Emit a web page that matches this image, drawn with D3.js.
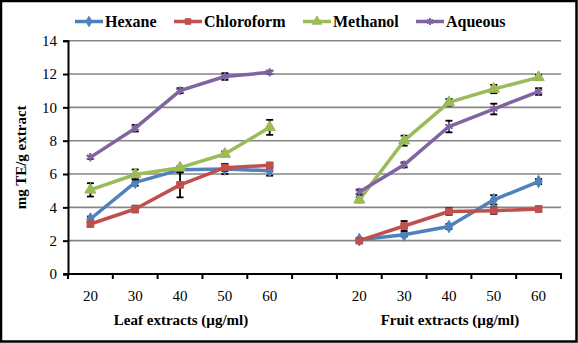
<!DOCTYPE html>
<html><head><meta charset="utf-8">
<script src="https://cdn.jsdelivr.net/npm/d3@7"></script>
<style>body{margin:0;background:#fff}svg{display:block}svg text{font-family:"Liberation Serif","Times New Roman",serif !important;fill:#000}</style>
</head><body><svg id="c" width="578" height="343"></svg>
<script>
const concentrations = ["20","30","40","50","60"];
const seriesNames = ["Hexane","Chloroform","Methanol","Aqueous"];
const seriesColors = ["#4F81BD","#C0504D","#9BBB59","#8064A2"];
const leafHexane     = [3.3, 5.5, 6.25, 6.3, 6.2];
const leafChloroform = [3.0, 3.9, 5.35, 6.38, 6.52];
const leafMethanol   = [5.05, 5.97, 6.38, 7.2, 8.8];
const leafAqueous    = [7.0, 8.75, 11.0, 11.85, 12.1];
const fruitHexane     = [2.06, 2.35, 2.85, 4.45, 5.55];
const fruitChloroform = [2.0, 2.88, 3.75, 3.8, 3.9];
const fruitMethanol   = [4.45, 8.0, 10.3, 11.1, 11.8];
const fruitAqueous    = [4.92, 6.55, 8.85, 9.9, 10.95];
const leafHexaneErr     = [0.15, 0.2, 0.15, 0.3, 0.3];
const leafChloroformErr = [0.15, 0.2, 0.75, 0.2, 0.15];
const leafMethanolErr   = [0.4, 0.3, 0.1, 0.15, 0.45];
const leafAqueousErr    = [0.1, 0.2, 0.15, 0.2, 0.1];
const fruitHexaneErr     = [0.1, 0.1, 0.15, 0.28, 0.15];
const fruitChloroformErr = [0.15, 0.3, 0.2, 0.2, 0.15];
const fruitMethanolErr   = [0.15, 0.3, 0.2, 0.25, 0.15];
const fruitAqueousErr    = [0.15, 0.15, 0.35, 0.32, 0.2];
const yTicks = [0,2,4,6,8,10,12,14];
const groupTitles = ["Leaf extracts (µg/ml)","Fruit extracts (µg/ml)"];

const groups = [
  {key:"L", vals:[leafHexane,leafChloroform,leafMethanol,leafAqueous], errs:[leafHexaneErr,leafChloroformErr,leafMethanolErr,leafAqueousErr]},
  {key:"F", vals:[fruitHexane,fruitChloroform,fruitMethanol,fruitAqueous], errs:[fruitHexaneErr,fruitChloroformErr,fruitMethanolErr,fruitAqueousErr]}
];
const domain = [...concentrations.map(c=>"L"+c), "gap", ...concentrations.map(c=>"F"+c)];

const svg = d3.select("#c");
const L=68, R=561, T=40.7, B=274;
const x = d3.scaleBand().domain(domain).range([L,R]).padding(0);
const y = d3.scaleLinear().domain([0,14]).range([B,T]);
const cx = k => x(k)+x.bandwidth()/2;

// border
svg.append("rect").attr("x",1).attr("y",1).attr("width",575.5).attr("height",340.5)
  .attr("fill","none").attr("stroke","#000").attr("stroke-width",2.5);

// gridlines
svg.append("g").selectAll("line").data(yTicks.filter(d=>d>0)).join("line")
  .attr("x1",L).attr("x2",R).attr("y1",d=>y(d)).attr("y2",d=>y(d))
  .attr("stroke","#868686").attr("stroke-width",1.6);

// y axis
const ya = svg.append("g").attr("transform",`translate(${L},0)`)
  .call(d3.axisLeft(y).tickValues(yTicks).tickSize(5).tickPadding(6).tickFormat(d3.format("d")));
ya.select(".domain").attr("stroke","#000").attr("stroke-width",2);
ya.selectAll(".tick line").attr("stroke","#000").attr("stroke-width",2);
ya.selectAll("text").attr("font-size",15);

// x axis labels
const xa = svg.append("g").attr("transform",`translate(0,${B})`)
  .call(d3.axisBottom(x).tickSize(0).tickPadding(16).tickFormat(d=>d==="gap"?"":d.slice(1)));
xa.select(".domain").remove();
xa.selectAll("text").attr("font-size",15);
svg.append("line").attr("x1",L-5).attr("x2",R+1).attr("y1",B).attr("y2",B).attr("stroke","#000").attr("stroke-width",2);
svg.append("g").selectAll("line").data([...domain.map(d=>x(d)), R]).join("line")
  .attr("x1",d=>d).attr("x2",d=>d).attr("y1",B).attr("y2",B+5).attr("stroke","#000").attr("stroke-width",2);

// axis titles
groups.forEach((g,i)=>{
  const keys = concentrations.map(c=>g.key+c);
  svg.append("text").attr("x",(cx(keys[0])+cx(keys[4]))/2 + 1).attr("y",325)
    .attr("text-anchor","middle").attr("font-size",15).attr("font-weight","bold").text(groupTitles[i]);
});
svg.append("text").attr("transform",`translate(26,${(T+B)/2}) rotate(-90)`)
  .attr("text-anchor","middle").attr("font-size",15).attr("font-weight","bold").text("mg TE/g extract");

const symbols = [d3.symbolDiamond, d3.symbolSquare, d3.symbolTriangle, d3.symbolAsterisk];
const sizes = [45, 45, 55, 50];
const line = d3.line().x(d=>d[0]).y(d=>d[1]);

groups.forEach(g=>{
  const keys = concentrations.map(c=>g.key+c);
  g.vals.forEach((vals,si)=>{
    const col = seriesColors[si];
    const pts = vals.map((v,i)=>[cx(keys[i]), y(v)]);
    const eg = svg.append("g");
    vals.forEach((v,i)=>{
      const e = g.errs[si][i], px = cx(keys[i]);
      eg.append("line").attr("x1",px).attr("x2",px).attr("y1",y(v+e)).attr("y2",y(v-e)).attr("stroke","#000").attr("stroke-width",1.8);
      [v+e, v-e].forEach(w=>eg.append("line").attr("x1",px-3.5).attr("x2",px+3.5).attr("y1",y(w)).attr("y2",y(w)).attr("stroke","#000").attr("stroke-width",1.8));
    });
    svg.append("path").attr("d",line(pts)).attr("fill","none").attr("stroke",col).attr("stroke-width",3.5).attr("stroke-linejoin","round");
    svg.append("g").selectAll("path").data(pts).join("path")
      .attr("transform",d=>`translate(${d[0]},${d[1]})`)
      .attr("d",d3.symbol(symbols[si], sizes[si]))
      .attr("fill", si===3?"none":col).attr("stroke",col).attr("stroke-width", si===3?2:1);
  });
});

// legend
const legX = [75, 174, 303, 416];
seriesNames.forEach((n,i)=>{
  const g = svg.append("g");
  g.append("line").attr("x1",legX[i]).attr("x2",legX[i]+28).attr("y1",21.5).attr("y2",21.5).attr("stroke",seriesColors[i]).attr("stroke-width",3.5);
  g.append("path").attr("transform",`translate(${legX[i]+14},21.5)`).attr("d",d3.symbol(symbols[i], sizes[i]*0.7))
    .attr("fill", i===3?"none":seriesColors[i]).attr("stroke",seriesColors[i]).attr("stroke-width", i===3?2:1);
  g.append("text").attr("x",legX[i]+30).attr("y",27).attr("font-size",16).attr("font-weight","bold").text(n);
});
</script></body></html>
